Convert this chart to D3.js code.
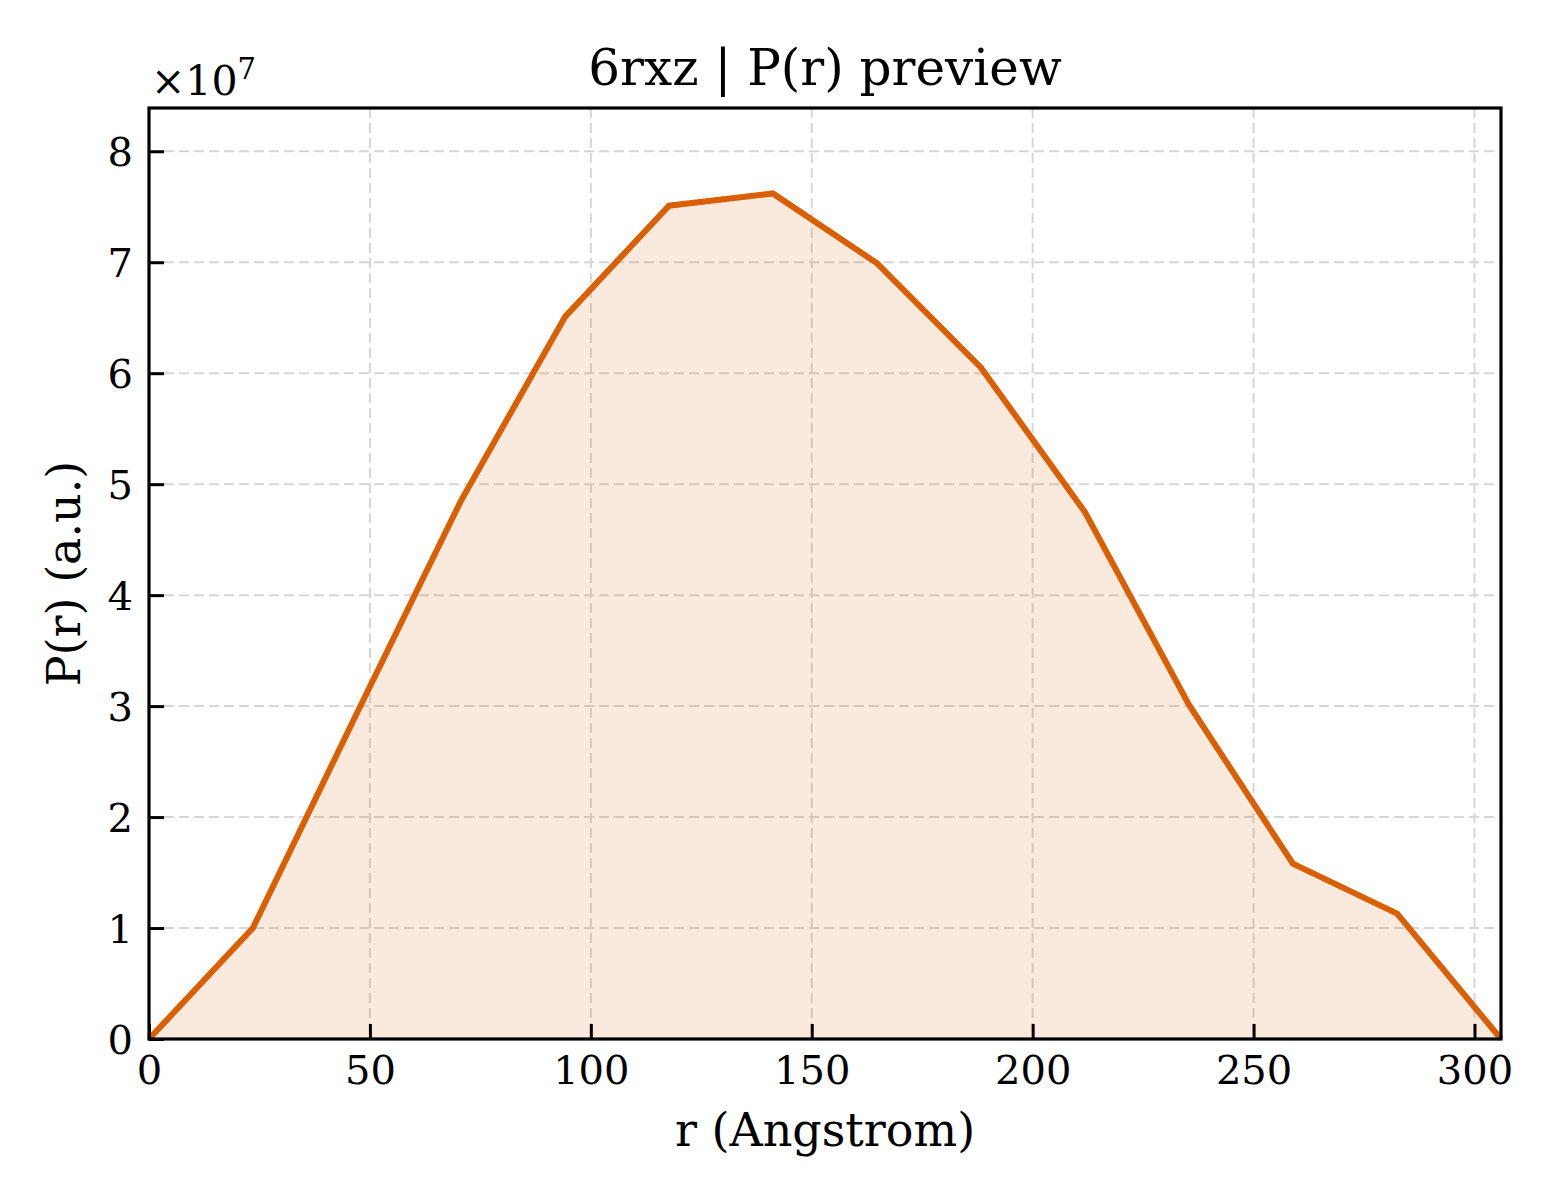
<!DOCTYPE html>
<html>
<head>
<meta charset="utf-8">
<script src="https://cdn.jsdelivr.net/npm/d3@7"></script>
<style>
  body { margin: 0; background: #fff; }
  svg { display: block; font-family: "DejaVu Serif", serif; }
</style>
</head>
<body>
<div id="chart"></div>
<script>
// P(r) curve, r in Angstrom, P in arbitrary units
const rValues = [0, 23.5, 47.1, 70.6, 94.2, 117.7, 141.2, 164.8, 188.3, 211.8, 235.4, 258.9, 282.5, 306.0];
const pValues = [0, 1.00e7, 2.94e7, 4.85e7, 6.51e7, 7.51e7, 7.62e7, 6.99e7, 6.05e7, 4.75e7, 3.01e7, 1.58e7, 1.13e7, 0];
const xTicks = [0, 50, 100, 150, 200, 250, 300];
const yTicks = [0, 1, 2, 3, 4, 5, 6, 7, 8];

const width = 1560;
const height = 1200;
const margin = { top: 108, right: 59, bottom: 161, left: 149 };
const innerW = width - margin.left - margin.right;
const innerH = height - margin.top - margin.bottom;
const lineColor = "#d95f02";

const data = rValues.map((r, i) => ({ r: r, p: pValues[i] }));

const x = d3.scaleLinear().domain([0, 306]).range([0, innerW]);
const y = d3.scaleLinear().domain([0, 8.39e7]).range([innerH, 0]);

const svg = d3.select("#chart").append("svg")
    .attr("width", width)
    .attr("height", height);

const g = svg.append("g")
    .attr("transform", `translate(${margin.left},${margin.top})`);

// grid
g.append("g")
    .selectAll("line")
    .data(xTicks)
    .join("line")
    .attr("x1", d => x(d)).attr("x2", d => x(d))
    .attr("y1", 0).attr("y2", innerH)
    .attr("stroke", "#d6d6d6")
    .attr("stroke-width", 2)
    .attr("stroke-dasharray", "10,5");

g.append("g")
    .selectAll("line")
    .data(yTicks)
    .join("line")
    .attr("x1", 0).attr("x2", innerW)
    .attr("y1", d => y(d * 1e7)).attr("y2", d => y(d * 1e7))
    .attr("stroke", "#d6d6d6")
    .attr("stroke-width", 2)
    .attr("stroke-dasharray", "10,5");

// filled area + line
const area = d3.area()
    .x(d => x(d.r))
    .y0(y(0))
    .y1(d => y(d.p));

const line = d3.line()
    .x(d => x(d.r))
    .y(d => y(d.p));

g.append("path")
    .datum(data)
    .attr("fill", lineColor)
    .attr("fill-opacity", 0.13)
    .attr("d", area);

g.append("path")
    .datum(data)
    .attr("fill", "none")
    .attr("stroke", lineColor)
    .attr("stroke-width", 6)
    .attr("stroke-linejoin", "miter")
    .attr("d", line);

// axes with inward ticks
const xAxis = d3.axisBottom(x)
    .tickValues(xTicks)
    .tickSizeInner(-15)
    .tickSizeOuter(0)
    .tickPadding(17);

const yAxis = d3.axisLeft(y)
    .tickValues(yTicks.map(d => d * 1e7))
    .tickFormat(d => d3.format("d")(d / 1e7))
    .tickSizeInner(-15)
    .tickSizeOuter(0)
    .tickPadding(16);

const gx = g.append("g")
    .attr("transform", `translate(0,${innerH})`)
    .call(xAxis);

const gy = g.append("g")
    .call(yAxis);

[gx, gy].forEach(ax => {
    ax.select(".domain").remove();
    ax.selectAll(".tick line").attr("stroke", "#000").attr("stroke-width", 3);
    ax.selectAll(".tick text")
        .attr("fill", "#000")
        .style("font-family", "DejaVu Serif")
        .style("font-size", "40px");
});
gy.selectAll(".tick text").attr("dy", "0.36em");
gx.selectAll(".tick text").attr("dy", "0.71em");

// frame
g.append("rect")
    .attr("width", innerW)
    .attr("height", innerH)
    .attr("fill", "none")
    .attr("stroke", "#000")
    .attr("stroke-width", 3.2);

// offset text
const off = svg.append("text")
    .attr("x", margin.left + 2)
    .attr("y", 95)
    .style("font-size", "41px")
    .attr("fill", "#000");
off.append("tspan").text("×10");
off.append("tspan")
    .attr("dy", -16)
    .style("font-size", "29px")
    .text("7");

// title and labels
svg.append("text")
    .attr("x", margin.left + innerW / 2)
    .attr("y", 85)
    .attr("text-anchor", "middle")
    .style("font-size", "50px")
    .attr("fill", "#000")
    .text("6rxz | P(r) preview");

svg.append("text")
    .attr("x", margin.left + innerW / 2)
    .attr("y", 1146)
    .attr("text-anchor", "middle")
    .style("font-size", "46px")
    .attr("fill", "#000")
    .text("r (Angstrom)");

svg.append("text")
    .attr("transform", `translate(80,${margin.top + innerH / 2}) rotate(-90)`)
    .attr("text-anchor", "middle")
    .style("font-size", "46px")
    .attr("fill", "#000")
    .text("P(r) (a.u.)");
</script>
</body>
</html>
